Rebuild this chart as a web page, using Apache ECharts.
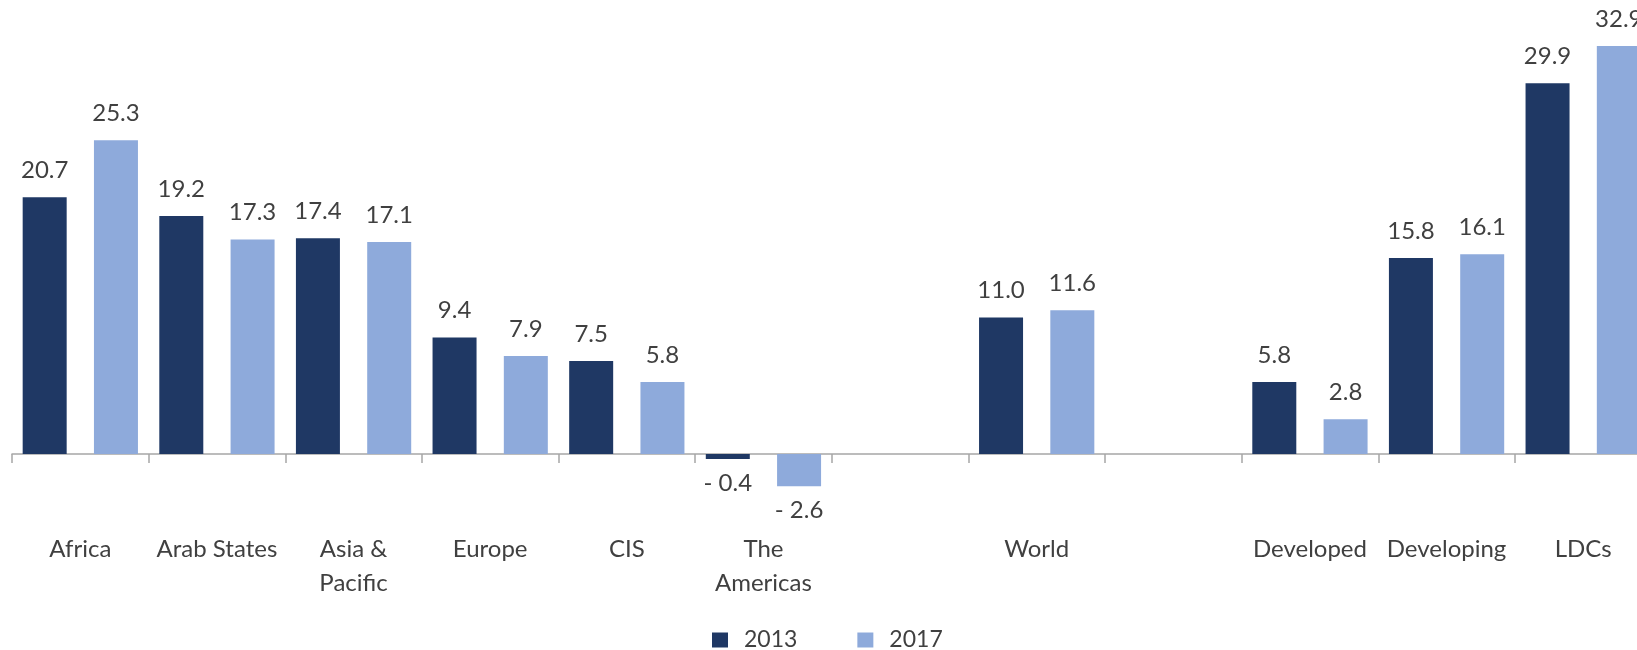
<!DOCTYPE html>
<html>
<head>
<meta charset="utf-8">
<script src="https://cdn.jsdelivr.net/npm/echarts@6/dist/echarts.min.js"></script>
<style>
  html, body { margin: 0; padding: 0; background: #fff; }
  #chart { width: 1637px; height: 650px; }
</style>
</head>
<body>
<div id="chart"></div>
<script>
// categories (two blank slots act as spacers between the groups)
var categories = ['Africa', 'Arab States', 'Asia &\nPacific', 'Europe', 'CIS', 'The\nAmericas',
                  '', 'World', '', 'Developed', 'Developing', 'LDCs'];
var values2013 = [20.7, 19.2, 17.4, 9.4, 7.5, -0.4, null, 11.0, null, 5.8, 15.8, 29.9];
var values2017 = [25.3, 17.3, 17.1, 7.9, 5.8, -2.6, null, 11.6, null, 2.8, 16.1, 32.9];

var textColor = '#404040';
var fontName = 'Lato, "Open Sans", sans-serif';

function formatValue(v) {
  if (v < 0)
    return '- ' + Math.abs(v).toFixed(1);
  return v.toFixed(1);
}

function buildData(values) {
  return values.map(function (v) {
    if (v === null)
      return '-';
    if (v < 0)
      return { value: v, label: { position: 'bottom', distance: 12 } };
    return v;
  });
}

var chart = echarts.init(document.getElementById('chart'));

var labelStyle = {
  show: true,
  position: 'top',
  distance: 15,
  color: textColor,
  fontFamily: fontName,
  fontSize: 24,
  formatter: function (p) { return formatValue(p.value); }
};

var option = {
  animation: false,
  textStyle: { fontFamily: fontName },
  grid: { left: 12, right: -14.5, top: 20, bottom: 134, outerBoundsMode: 'none', containLabel: false },
  legend: {
    left: 712,
    top: 628.5,
    padding: 0,
    itemWidth: 16,
    itemHeight: 15,
    itemGap: 60,
    icon: 'rect',
    textStyle: { color: textColor, fontSize: 23, fontFamily: fontName, padding: [0, 0, 0, 11] },
    data: ['2013', '2017']
  },
  xAxis: {
    type: 'category',
    data: categories,
    axisLine: { lineStyle: { color: '#a6a6a6', width: 1.5 } },
    axisTick: { show: true, length: 9, lineStyle: { color: '#a6a6a6', width: 1.5 } },
    axisLabel: {
      interval: 0,
      margin: 16,
      color: textColor,
      fontSize: 24,
      lineHeight: 34,
      fontFamily: fontName
    }
  },
  yAxis: {
    type: 'value',
    min: -5,
    max: 35,
    show: false,
    splitLine: { show: false }
  },
  series: [
    {
      name: '2013',
      type: 'bar',
      barWidth: 44,
      barGap: '62%',
      itemStyle: { color: '#1f3864' },
      label: labelStyle,
      data: buildData(values2013)
    },
    {
      name: '2017',
      type: 'bar',
      barWidth: 44,
      barGap: '62%',
      itemStyle: { color: '#8eaadb' },
      label: labelStyle,
      data: buildData(values2017)
    }
  ]
};

chart.setOption(option);
</script>
</body>
</html>
